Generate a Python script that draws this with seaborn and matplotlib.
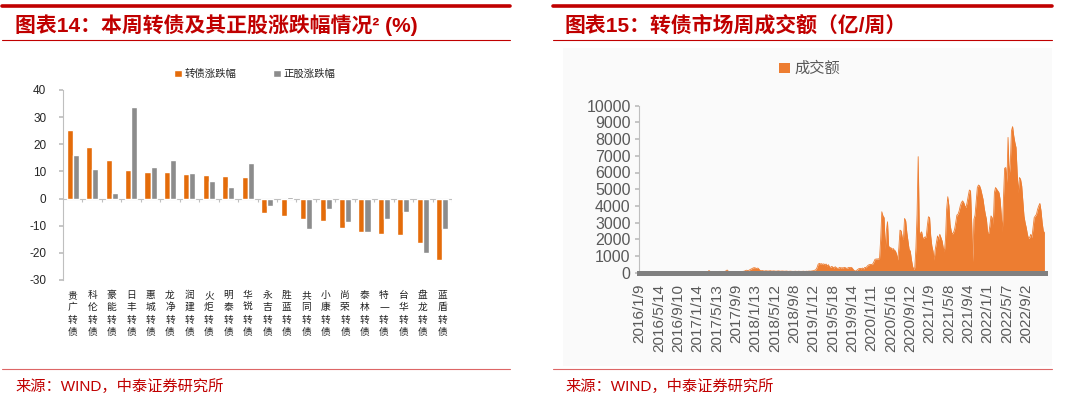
import numpy as np
import pandas as pd
import matplotlib
matplotlib.use('Agg')
import matplotlib.pyplot as plt
from matplotlib.patches import Rectangle
from matplotlib.lines import Line2D
import seaborn as sns

# left chart: weekly change of convertible bonds and underlying stocks (%)
bond_names = ['贵广转债', '科伦转债', '豪能转债', '日丰转债', '惠城转债', '龙净转债', '润建转债',
              '火炬转债', '明泰转债', '华锐转债', '永吉转债', '胜蓝转债', '共同转债', '小康转债',
              '尚荣转债', '泰林转债', '特一转债', '台华转债', '盘龙转债', '蓝盾转债']
bond_chg = [25.3, 19.0, 14.2, 10.4, 9.9, 9.9, 9.2, 8.8, 8.3, 7.8,
            -5.4, -6.4, -7.7, -8.1, -11.0, -12.2, -12.9, -13.6, -16.2, -22.6]
stock_chg = [15.9, 10.9, 2.2, 33.7, 11.6, 14.1, 9.4, 6.6, 4.4, 13.0,
             -2.8, 0.6, -11.1, -4.0, -8.7, -12.2, -7.7, -5.1, -20.0, -11.1]

# right chart: weekly turnover of the convertible bond market (亿)
week_labels = ['2016/1/9', '2016/5/14', '2016/9/10', '2017/1/14', '2017/5/13', '2017/9/9',
               '2018/1/13', '2018/5/12', '2018/9/8', '2019/1/12', '2019/5/18', '2019/9/14',
               '2020/1/11', '2020/5/16', '2020/9/12', '2021/1/9', '2021/5/8', '2021/9/4',
               '2022/1/1', '2022/5/7', '2022/9/2']
turnover = [
    80, 70, 60, 70, 60, 50, 50, 40, 50, 40, 40, 40, 50, 40, 40, 40, 40,
    40, 40, 30, 40, 40, 30, 40, 40, 40, 30, 40, 40, 30, 30, 40, 40, 40,
    40, 40, 30, 40, 40, 40, 30, 40, 40, 40, 40, 30, 40, 40, 40, 40, 40,
    40, 50, 40, 40, 50, 40, 40, 50, 40, 50, 130, 80, 60, 60, 70, 60, 60,
    70, 70, 80, 70, 60, 60, 70, 80, 110, 160, 90, 70, 60, 70, 60, 60, 70,
    60, 60, 70, 60, 60, 70, 80, 90, 120, 150, 130, 140, 180, 220, 250, 290, 300,
    280, 250, 280, 210, 130, 120, 130, 110, 100, 120, 110, 100, 110, 120, 100, 100, 110,
    100, 90, 100, 110, 100, 90, 100, 100, 90, 90, 100, 90, 80, 90, 90, 80, 80,
    80, 90, 80, 80, 90, 80, 80, 80, 90, 80, 80, 90, 80, 100, 90, 100, 110,
    120, 150, 180, 300, 500, 560, 520, 540, 500, 530, 470, 520, 400, 480, 350, 320, 380,
    330, 280, 360, 300, 260, 270, 320, 280, 300, 280, 320, 300, 260, 280, 320, 300, 320,
    280, 180, 120, 100, 150, 200, 250, 260, 230, 280, 220, 320, 300, 380, 450, 480, 500,
    480, 520, 650, 800, 820, 820, 830, 850, 2000, 3650, 3400, 3300, 1400, 2500, 3050, 1600, 1500,
    1500, 1400, 1450, 1350, 1300, 1100, 760, 1500, 2550, 2500, 2100, 2000, 3250, 3100, 2400, 1900, 1400,
    1300, 800, 400, 200, 300, 1500, 3500, 6950, 2400, 2350, 2450, 2100, 2050, 2150, 2100, 2800, 3350,
    3300, 2200, 1600, 1300, 760, 1400, 1800, 2200, 2000, 2300, 2100, 1900, 1500, 1250, 2000, 3800, 4550,
    4000, 2900, 2500, 2300, 2400, 2600, 3000, 3450, 3500, 3700, 4000, 4200, 4300, 4200, 4000, 3900, 4200,
    4600, 4950, 4900, 3000, 660, 3200, 3450, 4300, 5100, 5250, 5200, 5000, 4700, 4400, 3900, 3500, 3200,
    2400, 2350, 2800, 3400, 3300, 2900, 4800, 5100, 5000, 4900, 4800, 4400, 3500, 2450, 4500, 6250, 6300,
    5400, 8100, 5800, 6500, 8500, 8750, 8200, 7800, 7500, 6000, 4800, 5700, 5600, 5200, 4300, 3400, 3000,
    2700, 2300, 2050, 2100, 2300, 2100, 2700, 3300, 3400, 3500, 3800, 4000, 4150, 3700, 3000, 2500, 2400,
]

RED = '#c00000'
W, H = 1080, 397

sns.set_theme(style='white')
plt.rcParams['font.family'] = ['Liberation Sans', 'Noto Sans CJK SC', 'DejaVu Sans']
plt.rcParams['axes.unicode_minus'] = False

fig = plt.figure(figsize=(W / 100, H / 100), dpi=100)


def fx(px):
    return px / W


def fy(py):
    return 1 - py / H


# very light grey panel behind the right chart
fig.add_artist(Rectangle((fx(563), fy(366)), fx(1052 - 563), (366 - 48) / H,
                         transform=fig.transFigure, color='#fafafa', zorder=-5, lw=0))

# header / footer rules and titles
for x0, x1 in [(2, 510), (553, 1052)]:
    fig.add_artist(Line2D([fx(x0), fx(x1)], [fy(6), fy(6)], transform=fig.transFigure, color=RED, lw=2.6))
    fig.add_artist(Line2D([fx(x0), fx(x1)], [fy(40), fy(40)], transform=fig.transFigure, color=RED, lw=0.8))
    fig.add_artist(Line2D([fx(x0), fx(x1)], [fy(369), fy(369)], transform=fig.transFigure, color='#d66', lw=0.8))

fig.text(fx(15), fy(25), '图表14：本周转债及其正股涨跌幅情况² (%)', color=RED, fontsize=15,
         fontweight='bold', va='center', ha='left')
fig.text(fx(565), fy(25), '图表15：转债市场周成交额（亿/周）', color=RED, fontsize=15,
         fontweight='bold', va='center', ha='left')
fig.text(fx(15), fy(386), '来源：WIND，中泰证券研究所', color=RED, fontsize=11, va='center')
fig.text(fx(565), fy(386), '来源：WIND，中泰证券研究所', color=RED, fontsize=11, va='center')

# ---- left: grouped bars ----
ax1 = fig.add_axes([fx(63), fy(280), fx(452 - 63), (280 - 90) / H])
df = pd.DataFrame({
    'name': bond_names * 2,
    'value': bond_chg + stock_chg,
    'series': ['转债涨跌幅'] * len(bond_names) + ['正股涨跌幅'] * len(bond_names),
})
sns.barplot(data=df, x='name', y='value', hue='series', palette=['#e46c0a', '#8c8c8c'],
            width=0.62, gap=0, saturation=1, ax=ax1, errorbar=None)
ax1.set_ylim(-30, 40)
ax1.set_yticks(range(-30, 41, 10))
ax1.set_xlim(-0.5, len(bond_names) - 0.5)
ax1.set_xticks(range(len(bond_names)))
ax1.set_xticklabels(['\n'.join(n) for n in bond_names], fontsize=7, linespacing=1.3, color='#222')
ax1.set_xlabel('')
ax1.set_ylabel('')
ax1.axhline(0, color='#bfbfbf', lw=0.8, zorder=0.5)
ax1.vlines(np.arange(len(bond_names)) + 0.5, 0, -1.1, color='#bfbfbf', lw=0.8)
for s in ['top', 'right', 'bottom']:
    ax1.spines[s].set_visible(False)
ax1.spines['left'].set_color('#bfbfbf')
ax1.spines['left'].set_linewidth(0.8)
ax1.tick_params(axis='y', length=3, color='#bfbfbf', labelsize=8.5, pad=9, left=True)
ax1.tick_params(axis='x', length=0, pad=7)
ax1.set_facecolor('none')
ax1.legend(title=None, loc='center', bbox_to_anchor=(fx(255), fy(74)), bbox_transform=fig.transFigure,
           ncol=2, frameon=False, fontsize=7.5, handlelength=0.7, handleheight=0.7,
           handletextpad=0.3, columnspacing=3.5)

# ---- right: weekly turnover area ----
ax2 = fig.add_axes([fx(639), fy(272.7), fx(1045 - 639), (272.7 - 105.7) / H])
idx = np.arange(len(turnover))
ax2.fill_between(idx, turnover, color='#ed7d31', lw=0, label='成交额')
sns.lineplot(x=idx, y=turnover, ax=ax2, color='#ed7d31', lw=0.6)
ax2.set_xlim(-0.5, len(turnover) - 0.5)
ax2.set_ylim(0, 10000)
ax2.set_yticks(range(0, 10001, 1000))
ax2.set_xticks(np.arange(0, len(turnover), 17))
ax2.set_xticklabels(week_labels, rotation=90)
ax2.tick_params(axis='x', length=0, pad=8, labelsize=11, labelcolor='#595959')
ax2.tick_params(axis='y', length=3, color='#bfbfbf', labelsize=11.5, labelcolor='#595959', pad=3, left=True)
for s in ['top', 'right']:
    ax2.spines[s].set_visible(False)
ax2.spines['left'].set_color('#bfbfbf')
ax2.spines['left'].set_linewidth(0.8)
ax2.spines['bottom'].set_color('#808080')
ax2.spines['bottom'].set_linewidth(3.6)
ax2.set_facecolor('none')
ax2.legend(loc='center', bbox_to_anchor=(fx(810), fy(69)), bbox_transform=fig.transFigure,
           frameon=False, fontsize=11, handlelength=0.7, handleheight=0.7, handletextpad=0.3,
           labelcolor='#595959')

fig.savefig('out.png', dpi=100)
